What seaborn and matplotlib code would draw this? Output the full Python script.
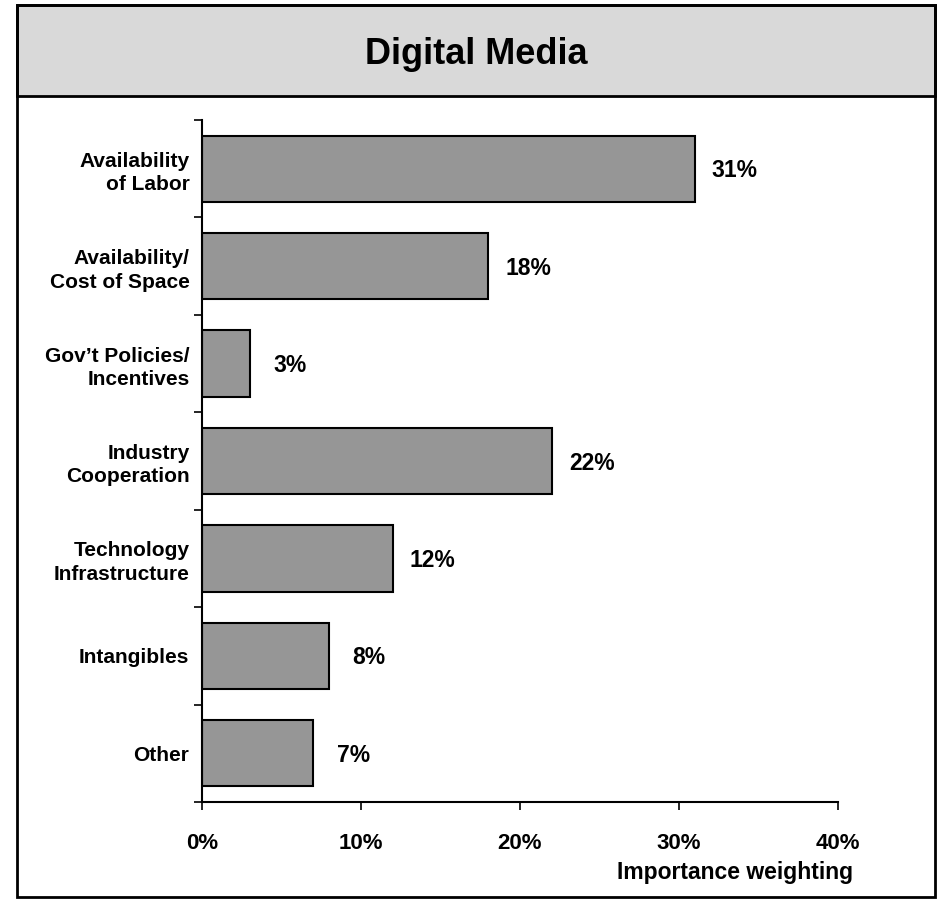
import matplotlib
matplotlib.use("Agg")
import matplotlib.pyplot as plt
import seaborn as sns
import pandas as pd
from matplotlib.patches import Rectangle
from matplotlib.ticker import FuncFormatter

categories = ["Availability\nof Labor", "Availability/\nCost of Space", "Gov\u2019t Policies/\nIncentives",
              "Industry\nCooperation", "Technology\nInfrastructure", "Intangibles", "Other"]
values = [31, 18, 3, 22, 12, 8, 7]
xticks = [0, 10, 20, 30, 40]
title = "Digital Media"
xlabel = "Importance weighting"

sns.set_theme(style="white")
plt.rcParams['font.family'] = ['Liberation Sans', 'DejaVu Sans']
plt.rcParams['font.weight'] = 'bold'
plt.rcParams['text.color'] = 'black'
plt.rcParams['xtick.color'] = 'black'
plt.rcParams['ytick.color'] = 'black'
plt.rcParams['axes.labelcolor'] = 'black'

W, H = 941, 900
fig = plt.figure(figsize=(W/100, H/100), dpi=100)

def fx(px): return px / W
def fy(py): return 1 - py / H

# outer frame and title bar
fig.patches.append(Rectangle((fx(17), fy(96)), fx(935) - fx(17), fy(5) - fy(96),
                             transform=fig.transFigure, facecolor="#d9d9d9",
                             edgecolor="black", linewidth=2, zorder=0))
fig.patches.append(Rectangle((fx(17), fy(897)), fx(935) - fx(17), fy(5) - fy(897),
                             transform=fig.transFigure, facecolor="none",
                             edgecolor="black", linewidth=2, zorder=1))
fig.text(fx(476), fy(54), title, ha="center", va="center", fontsize=26,
         fontweight="bold", color="black")

ax = fig.add_axes([fx(202), fy(802), fx(838) - fx(202), fy(120) - fy(802)])
df = pd.DataFrame({"cat": categories, "val": values})
sns.barplot(data=df, x="val", y="cat", orient="h", color="#969696", saturation=1,
            edgecolor="black", linewidth=1.5, width=0.68, ax=ax)

ax.set_xlim(0, 40)
ax.set_ylim(len(categories) - 0.5, -0.5)
ax.set_xticks(xticks)
ax.xaxis.set_major_formatter(FuncFormatter(lambda v, p: f"{int(v)}%"))
ax.set_yticks([i for i in range(len(categories))])
ax.set_yticklabels(categories, fontsize=15, fontweight="bold", ha="right",
                   multialignment="right", linespacing=1.3, color="black")
ax.set_yticks([i - 0.5 for i in range(len(categories) + 1)], minor=True)
ax.tick_params(axis="y", which="major", length=0, pad=9)
ax.tick_params(axis="y", which="minor", length=6, width=1.2, direction="out", color="black", left=True)
ax.tick_params(axis="x", which="major", length=6, width=1.2, direction="out", color="black",
               bottom=True, pad=16, labelsize=16, labelcolor="black")
for lab in ax.get_xticklabels():
    lab.set_fontweight("bold")
ax.set_xlabel("")
ax.set_ylabel("")
for s in ["top", "right"]:
    ax.spines[s].set_visible(False)
for s in ["left", "bottom"]:
    ax.spines[s].set_color("black")
    ax.spines[s].set_linewidth(1.5)

for i, v in enumerate(values):
    ax.annotate(f"{v}%", xy=(v, i), xytext=(40, -2), textcoords="offset pixels",
                ha="center", va="center", fontsize=16.5, fontweight="bold", color="black")

fig.text(fx(853), fy(873), xlabel, ha="right", va="center", fontsize=16.5,
         fontweight="bold", color="black")

fig.savefig("out.png", dpi=100)
